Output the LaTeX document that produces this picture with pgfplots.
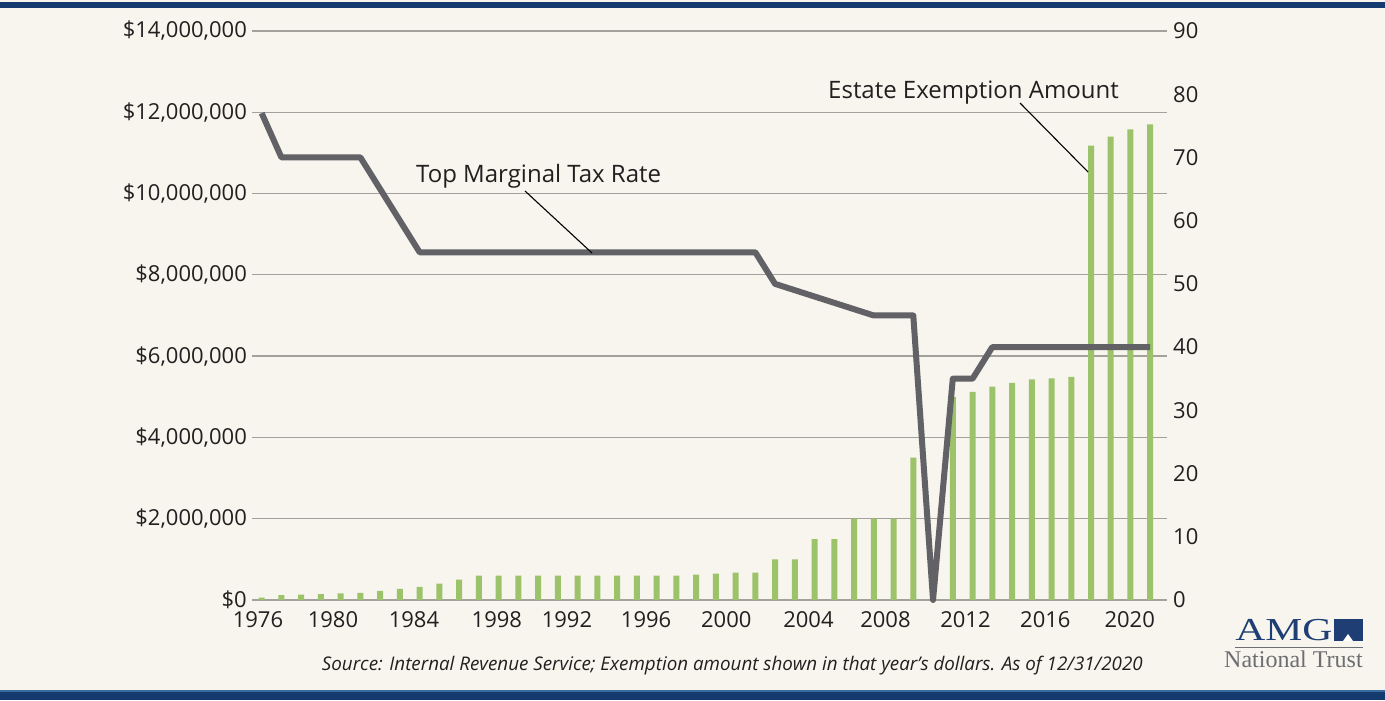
\documentclass[border=0pt]{standalone}
\usepackage{pgfplots}
\pgfplotsset{compat=1.18}
\usepackage{fontspec}
\setmainfont{Open Sans}
\newfontfamily\logofont{Liberation Serif}
\definecolor{bg}{HTML}{F8F5EE}
\definecolor{navy}{HTML}{143A6F}
\definecolor{navyl}{HTML}{3A6A9E}
\definecolor{barg}{HTML}{9CC36A}
\definecolor{lineg}{HTML}{616166}
\definecolor{gridg}{HTML}{A3A19C}
\definecolor{txt}{HTML}{231F20}
\definecolor{logogray}{HTML}{6D6E71}
\definecolor{logonavy}{HTML}{1F3F74}

\begin{document}
\begin{tikzpicture}[x=1bp,y=1bp]
\fill[bg] (0,0) rectangle (1385,700);
\fill[navy] (0,692) rectangle (1385,698);
\fill[navyl] (0,8) rectangle (1385,9.5);
\fill[navy] (0,0) rectangle (1385,8);

\begin{axis}[
  at={(252bp,100bp)}, anchor=south west,
  width=915bp, height=569bp, scale only axis,
  xmin=1975.51, xmax=2021.85, ymin=0, ymax=14000000,
  scaled y ticks=false,
  axis line style={draw=none}, major tick length=0pt,
  ymajorgrids, grid style={gridg, line width=1.3bp},
  ytick={0,2000000,4000000,6000000,8000000,10000000,12000000,14000000},
  yticklabels={{\$0},{\$2,000,000},{\$4,000,000},{\$6,000,000},{\$8,000,000},{\$10,000,000},{\$12,000,000},{\$14,000,000}},
  xtick={1975.81,1979.61,1983.71,1987.91,1991.46,1995.47,1999.53,2003.69,2007.59,2011.64,2015.69,2019.96},
  xticklabels={1976,1980,1984,1998,1992,1996,2000,2004,2008,2012,2016,2020},
  tick label style={font=\fontsize{22bp}{26bp}\selectfont, text=txt},
  yticklabel style={anchor=east, inner sep=0pt, xshift=-5bp},
  xticklabel style={anchor=north, inner sep=0pt, yshift=-11bp},
]
\addplot[ybar, bar width=6bp, bar shift=0pt, fill=barg, draw=none] coordinates {
(1976,60000) (1977,120000) (1978,134000) (1979,147000) (1980,161000)
(1981,175000) (1982,225000) (1983,275000) (1984,325000) (1985,400000)
(1986,500000) (1987,600000) (1988,600000) (1989,600000) (1990,600000)
(1991,600000) (1992,600000) (1993,600000) (1994,600000) (1995,600000)
(1996,600000) (1997,600000) (1998,625000) (1999,650000) (2000,675000)
(2001,675000) (2002,1000000) (2003,1000000) (2004,1500000) (2005,1500000)
(2006,2000000) (2007,2000000) (2008,2000000) (2009,3500000) (2010,0)
(2011,5000000) (2012,5120000) (2013,5250000) (2014,5340000) (2015,5430000)
(2016,5450000) (2017,5490000) (2018,11180000) (2019,11400000) (2020,11580000)
(2021,11700000)
};
\end{axis}

\begin{axis}[
  at={(252bp,100bp)}, anchor=south west,
  width=915bp, height=569bp, scale only axis,
  xmin=1975.51, xmax=2021.85, ymin=0, ymax=90,
  hide x axis, axis y line*=right,
  axis line style={draw=none}, major tick length=0pt,
  ytick={0,10,20,30,40,50,60,70,80,90},
  yticklabels={0,10,20,30,40,50,60,70,80,90},
  tick label style={font=\fontsize{22bp}{26bp}\selectfont, text=txt},
  yticklabel style={anchor=west, inner sep=0pt, xshift=6bp},
  clip=false,
]
\addplot[lineg, line width=6bp, line join=round, line cap=butt] coordinates {
(1976,77) (1977,70) (1981,70) (1982,65) (1983,60) (1984,55) (2001,55)
(2002,50) (2003,49) (2004,48) (2005,47) (2006,46) (2007,45) (2009,45)
(2010,0) (2011,35) (2012,35) (2013,40) (2021,40)
};
\end{axis}

% annotations
\node[anchor=base west, inner sep=0pt, text=txt, font=\fontsize{24bp}{28bp}\selectfont] at (416,517) {Top Marginal Tax Rate};
\draw[black, line width=1.1bp] (525,509) -- (592,447);
\node[anchor=base west, inner sep=0pt, text=txt, font=\fontsize{24bp}{28bp}\selectfont] at (828,601) {Estate Exemption Amount};
\draw[black, line width=1.1bp] (1020,597) -- (1088,528);

% source
\node[anchor=base east, inner sep=0pt, text=txt, font=\fontsize{18.8bp}{22bp}\selectfont\itshape] at (1143,29.5) {Source: Internal Revenue Service; Exemption amount shown in that year's dollars. As of 12/31/2020};

% logo
\node[anchor=base west, inner sep=0pt, text=logonavy, font=\logofont\fontsize{32bp}{36bp}\selectfont, xscale=1.3] at (1235,59) {AMG};
\fill[logonavy] (1334,59) rectangle (1363,81);
\fill[white] (1343,59) -- (1348,66) -- (1353,59) -- cycle;
\draw[logogray, line width=0.8bp] (1235,53) -- (1363,53);
\node[anchor=base west, inner sep=0pt, text=logogray, font=\logofont\fontsize{24bp}{28bp}\selectfont] at (1224,32) {National Trust};
\end{tikzpicture}
\end{document}
